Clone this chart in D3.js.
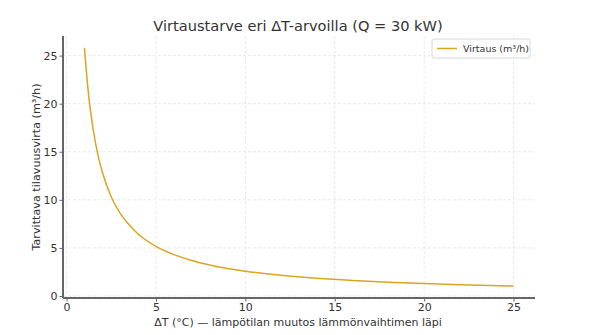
<!DOCTYPE html>
<html><head><meta charset="utf-8">
<script src="https://cdn.jsdelivr.net/npm/d3@7"></script>
<style>
body{margin:0;background:#fff;}
svg{font-family:"DejaVu Sans",sans-serif;}
</style></head>
<body><svg id="c" width="593" height="335"></svg>
<script>
const deltaT = [1, 1.1, 1.25, 1.5, 1.75, 2, 2.5, 3, 3.5, 4, 5, 6, 7, 8, 9, 10, 12, 14, 16, 18, 20, 22, 25];
const flow   = [25.8, 23.5, 20.6, 17.2, 14.7, 12.9, 10.3, 8.6, 7.4, 6.45, 5.16, 4.3, 3.69, 3.23, 2.87, 2.58, 2.15, 1.84, 1.61, 1.43, 1.29, 1.17, 1.03];
const xTicks = [0, 5, 10, 15, 20, 25];
const yTicks = [0, 5, 10, 15, 20, 25];
const title = "Virtaustarve eri ΔT-arvoilla (Q = 30 kW)";
const xLabel = "ΔT (°C) — lämpötilan muutos lämmönvaihtimen läpi";
const yLabel = "Tarvittava tilavuusvirta (m³/h)";
const seriesName = "Virtaus (m³/h)";

const svg = d3.select("#c");
const L = 63, R = 535, T = 36, B = 298;
const x = d3.scaleLinear().domain([-0.2, 26.2]).range([L, R]);
const y = d3.scaleLinear().domain([-0.21, 27.04]).range([B, T]);
const col = "#daa520";

// grid
const g = svg.append("g");
g.selectAll(".vx").data(xTicks).enter().append("line")
  .attr("x1", d=>x(d)).attr("x2", d=>x(d)).attr("y1", T).attr("y2", B)
  .attr("stroke", "#e3e3e3").attr("stroke-width", 0.8).attr("stroke-dasharray", "3,2");
g.selectAll(".hy").data(yTicks).enter().append("line")
  .attr("y1", d=>y(d)).attr("y2", d=>y(d)).attr("x1", L).attr("x2", R)
  .attr("stroke", "#e3e3e3").attr("stroke-width", 0.8).attr("stroke-dasharray", "3,2");

// line
const pts = deltaT.map((d,i)=>[d, flow[i]]);
svg.append("path").datum(pts)
  .attr("d", d3.line().x(d=>x(d[0])).y(d=>y(d[1])).curve(d3.curveMonotoneX))
  .attr("fill", "none").attr("stroke", col).attr("stroke-width", 1.5);

// axes
const xa = svg.append("g").attr("transform", `translate(0,${B})`)
  .call(d3.axisBottom(x).tickValues(xTicks).tickSize(3.5).tickPadding(2).tickFormat(d3.format("d")));
const ya = svg.append("g").attr("transform", `translate(${L},0)`)
  .call(d3.axisLeft(y).tickValues(yTicks).tickSize(3.5).tickPadding(2).tickFormat(d3.format("d")));
[xa, ya].forEach(a=>{
  a.select(".domain").attr("stroke", "#666").attr("stroke-width", 2);
  a.selectAll(".tick line").attr("stroke", "#666");
  a.selectAll(".tick text").attr("fill", "#333").style("font-size", "11px").style("font-family", "DejaVu Sans");
});
xa.select(".domain").attr("d", `M${L},0H${R}`);
ya.select(".domain").attr("d", `M0,${T}V${B}`);

svg.append("text").attr("x", 298).attr("y", 31).attr("text-anchor", "middle")
  .attr("fill", "#333").style("font-size", "14.6px").text(title);
svg.append("text").attr("x", 298).attr("y", 326).attr("text-anchor", "middle")
  .attr("fill", "#333").style("font-size", "11px").text(xLabel);
svg.append("text").attr("transform", `translate(40,${(T+B)/2}) rotate(-90)`).attr("text-anchor", "middle")
  .attr("fill", "#333").style("font-size", "11.2px").text(yLabel);

// legend
const lg = svg.append("g");
lg.append("rect").attr("x", 432).attr("y", 39).attr("width", 98).attr("height", 19).attr("rx", 2)
  .attr("fill", "#fff").attr("fill-opacity", 0.8).attr("stroke", "#d8d8d8");
lg.append("line").attr("x1", 437).attr("x2", 457).attr("y1", 48.5).attr("y2", 48.5)
  .attr("stroke", col).attr("stroke-width", 1.5);
lg.append("text").attr("x", 463).attr("y", 52).attr("fill", "#333").style("font-size", "9.5px").text(seriesName);
</script></body></html>
